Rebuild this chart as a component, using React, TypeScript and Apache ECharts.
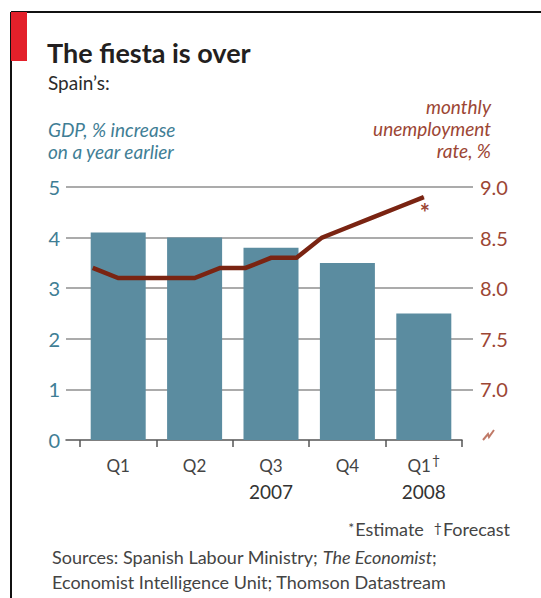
import React, { useEffect, useRef } from "react";
import * as echarts from "echarts";

const quarters = ["Q1", "Q2", "Q3", "Q4", "Q1"];
const yearLabels = ["", "", "2007", "", "2008"];
const forecastFlags = [false, false, false, false, true];
const gdpGrowth = [4.1, 4.0, 3.8, 3.5, 2.5];
const months = [
  "Jan 07", "Feb 07", "Mar 07", "Apr 07", "May 07", "Jun 07", "Jul 07", "Aug 07",
  "Sep 07", "Oct 07", "Nov 07", "Dec 07", "Jan 08", "Feb 08", "Mar 08",
];
const unemployment: (number | null)[] = [
  8.2, 8.1, 8.1, 8.1, 8.1, 8.2, 8.2, 8.3, 8.3, 8.5, 8.6, 8.7, 8.8, 8.9, null,
];
const estimateIndex = 13;
const gdpTicks = { min: 0, max: 5, interval: 1 };
const unempTicks = { min: 6.5, max: 9.0, interval: 0.5 };

const FONT = "Lato, 'Open Sans', sans-serif";
const TEAL = "#3f7e95";
const BROWN = "#9c4634";
const LINE = "#7a2412";
const BAR = "#5b8ca0";
const GRID = "#8f8f8f";
const TEXT = "#2b2b2b";

export default function App() {
  const ref = useRef<HTMLDivElement>(null);
  useEffect(() => {
    document.body.style.margin = "0";
    const chart = echarts.init(ref.current!, null, { renderer: "svg" });
    const top = 187;
    const height = 253;
    const lineData = unemployment.map((v, i) =>
      i === estimateIndex
        ? {
            value: v,
            symbol: "circle",
            symbolSize: 1,
            label: {
              show: true,
              formatter: "*",
              position: "bottom",
              distance: 3,
              offset: [1, 0],
              color: BROWN,
              fontSize: 24,
              fontWeight: "bold",
              fontFamily: FONT,
            },
          }
        : v
    );
    chart.setOption({
      animation: false,
      backgroundColor: "#fff",
      grid: [
        { left: 66, right: 68, top, height },
        { left: 80, right: 79, top, height },
        { left: 66, right: 79, top, height },
      ],
      xAxis: [
        { gridIndex: 0, type: "category", data: quarters, show: false },
        {
          gridIndex: 1,
          type: "category",
          data: quarters.map((q, i) => i),
          axisLine: { show: false },
          axisTick: { show: true, length: 7, lineStyle: { color: "#555", width: 1.5 } },
          axisLabel: {
            margin: 12,
            formatter: (v: string) => {
              const i = Number(v);
              const q = "{q|" + quarters[i] + "}" + (forecastFlags[i] ? "{d|†}" : "");
              return q + "\n{y|" + (yearLabels[i] || " ") + "}";
            },
            rich: {
              q: { fontSize: 17, color: "#444", fontFamily: FONT, lineHeight: 26 },
              d: { fontSize: 14, color: "#444", fontFamily: FONT, verticalAlign: "top", padding: [0, 0, 6, 1] },
              y: { fontSize: 19, color: "#333", fontFamily: FONT, lineHeight: 26 },
            },
          },
        },
        { gridIndex: 1, type: "category", data: months, show: false },
        {
          gridIndex: 2,
          type: "category",
          data: [""],
          axisLine: { show: true, lineStyle: { color: "#555", width: 1.5 } },
          axisTick: { show: false },
          axisLabel: { show: false },
        },
      ],
      yAxis: [
        {
          gridIndex: 0,
          type: "value",
          position: "left",
          ...gdpTicks,
          axisLine: { show: false },
          axisTick: { show: false },
          axisLabel: { color: TEAL, fontSize: 20, fontFamily: FONT, margin: 6 },
          splitLine: {
            show: true,
            lineStyle: { color: ["rgba(0,0,0,0)", GRID, GRID, GRID, GRID, GRID], width: 1.5 },
          },
        },
        {
          gridIndex: 0,
          type: "value",
          position: "right",
          ...unempTicks,
          axisLine: { show: false },
          axisTick: { show: false },
          splitLine: { show: false },
          axisLabel: {
            color: BROWN,
            fontSize: 20,
            fontFamily: FONT,
            margin: 7,
            formatter: (v: number) => (v === unempTicks.min ? "" : v.toFixed(1)),
          },
        },
        { gridIndex: 1, type: "value", ...gdpTicks, show: false },
        { gridIndex: 1, type: "value", ...unempTicks, show: false },
        { gridIndex: 2, type: "value", ...gdpTicks, show: false },
      ],
      series: [
        {
          type: "bar",
          xAxisIndex: 1,
          yAxisIndex: 2,
          data: gdpGrowth,
          barWidth: "72%",
          itemStyle: { color: BAR },
          z: 2,
        },
        {
          type: "line",
          xAxisIndex: 2,
          yAxisIndex: 3,
          data: lineData,
          symbol: "none",
          lineStyle: { color: LINE, width: 4.5, join: "miter" },
          itemStyle: { color: LINE },
          z: 3,
        },
      ],
      graphic: [
        { type: "line", shape: { x1: 11, y1: 12, x2: 541, y2: 12 }, style: { stroke: "#111", lineWidth: 2 } },
        { type: "line", shape: { x1: 11, y1: 12, x2: 11, y2: 598 }, style: { stroke: "#111", lineWidth: 2 } },
        { type: "rect", shape: { x: 11, y: 12, width: 16, height: 49 }, style: { fill: "#e3202a" } },
        {
          type: "text", x: 47, y: 52,
          style: { text: "The fiesta is over", font: "bold 27px " + FONT, fill: "#231f20", verticalAlign: "middle" },
        },
        {
          type: "text", x: 48, y: 82,
          style: { text: "Spain’s:", font: "19px " + FONT, fill: TEXT, verticalAlign: "middle" },
        },
        {
          type: "text", x: 48, y: 129,
          style: { text: "GDP, % increase", font: "italic 19px " + FONT, fill: TEAL, verticalAlign: "middle" },
        },
        {
          type: "text", x: 48, y: 151,
          style: { text: "on a year earlier", font: "italic 19px " + FONT, fill: TEAL, verticalAlign: "middle" },
        },
        {
          type: "text", x: 491, y: 106,
          style: { text: "monthly", font: "italic 19px " + FONT, fill: BROWN, align: "right", verticalAlign: "middle" },
        },
        {
          type: "text", x: 491, y: 128,
          style: { text: "unemployment", font: "italic 19px " + FONT, fill: BROWN, align: "right", verticalAlign: "middle" },
        },
        {
          type: "text", x: 491, y: 150,
          style: { text: "rate, %", font: "italic 19px " + FONT, fill: BROWN, align: "right", verticalAlign: "middle" },
        },
        {
          type: "polyline",
          shape: { points: [[483, 440], [488, 434], [489, 437], [494, 430]] },
          style: { stroke: "#c07a68", lineWidth: 2, fill: "none" },
        },
        {
          type: "text", x: 510, y: 529,
          style: {
            text: "{s|*}{t|Estimate}   {s|†}{t|Forecast}",
            align: "right",
            verticalAlign: "middle",
            rich: {
              s: { fontSize: 14, fontFamily: FONT, fill: "#444", verticalAlign: "top", padding: [0, 1, 4, 0] },
              t: { fontSize: 18, fontFamily: FONT, fill: "#444" },
            },
          },
        },
        {
          type: "text", x: 52, y: 557,
          style: {
            text: "{a|Sources: Spanish Labour Ministry; }{b|The Economist}{a|;}",
            verticalAlign: "middle",
            rich: {
              a: { fontSize: 18, fontFamily: FONT, fill: "#444" },
              b: { fontSize: 18, fontFamily: FONT, fontStyle: "italic", fill: "#444" },
            },
          },
        },
        {
          type: "text", x: 52, y: 582,
          style: { text: "Economist Intelligence Unit; Thomson Datastream", font: "18px " + FONT, fill: "#444", verticalAlign: "middle" },
        },
      ],
    });
    return () => chart.dispose();
  }, []);
  return <div ref={ref} style={{ width: 541, height: 598 }} />;
}
